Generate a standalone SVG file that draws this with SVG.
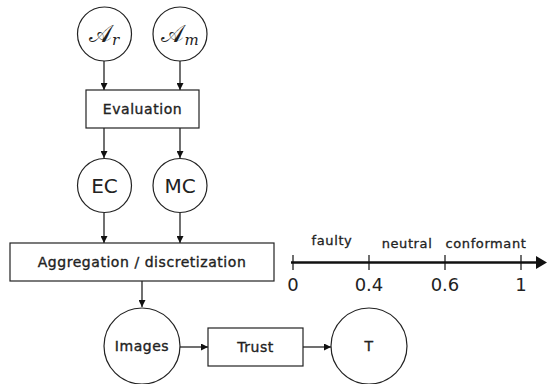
<svg xmlns="http://www.w3.org/2000/svg" width="547" height="384" viewBox="0 0 547 384">
<defs>
<style>
.n{fill:#fff;stroke:#222;stroke-width:1.2}
.t{font-family:"DejaVu Sans","Open Sans",sans-serif;fill:#222;text-anchor:middle}
.box{font-size:14px;letter-spacing:0.55px;stroke:#222;stroke-width:0.35}
.lb{font-size:13px;letter-spacing:0.6px;stroke:#222;stroke-width:0.3}
.big{font-size:20px}
.c{stroke:#111;stroke-width:1.2;fill:none;marker-end:url(#ah)}
.ax{stroke:#111;stroke-width:2.6;fill:none}
.tk{stroke:#111;stroke-width:1.2}
</style>
<marker id="ah" viewBox="0 0 10 10" refX="10" refY="5" markerWidth="7" markerHeight="7" markerUnits="userSpaceOnUse" orient="auto">
<path d="M0,0L10,5L0,10z" fill="#111"/>
</marker>
</defs>
<g id="connectors">
<path class="c" d="M104,61V90"/>
<path class="c" d="M180,61V90"/>
<path class="c" d="M104,128V158"/>
<path class="c" d="M180,128V158"/>
<path class="c" d="M104,213V243"/>
<path class="c" d="M180,213V243"/>
<path class="c" d="M142,281V307"/>
<path class="c" d="M180,347H208"/>
<path class="c" d="M303,347H331"/>
</g>
<g id="Ar"><circle class="n" cx="104.5" cy="34" r="27"/><text class="t" font-size="24" x="104" y="42">𝒜<tspan font-family="DejaVu Serif" font-style="italic" font-size="15" dy="3">r</tspan></text></g>
<g id="Am"><circle class="n" cx="180" cy="34" r="27"/><text class="t" font-size="24" x="180" y="42">𝒜<tspan font-family="DejaVu Serif" font-style="italic" font-size="15" dy="3">m</tspan></text></g>
<g id="Evaluation"><rect class="n" x="86" y="90" width="113" height="38"/><text class="t box" x="142.5" y="114">Evaluation</text></g>
<g id="EC"><circle class="n" cx="104.5" cy="185.5" r="27"/><text class="t big" x="104.5" y="193">EC</text></g>
<g id="MC"><circle class="n" cx="180" cy="185.5" r="27"/><text class="t big" x="180" y="193">MC</text></g>
<g id="Aggregation"><rect class="n" x="10" y="243" width="264" height="38"/><text class="t box" x="142" y="267">Aggregation / discretization</text></g>
<g id="Images"><circle class="n" cx="142" cy="346" r="38"/><text class="t box" x="142" y="351">Images</text></g>
<g id="Trust"><rect class="n" x="208" y="328" width="95" height="38"/><text class="t box" x="255.5" y="352">Trust</text></g>
<g id="T"><circle class="n" cx="369" cy="346" r="38"/><text class="t box" x="369" y="351">T</text></g>
<g id="scale">
<path class="ax" d="M291,262.5H540" />
<path d="M536,256L547,262.5L536,269z" fill="#111"/>
<path class="tk" d="M293,255V270M369,255V270M445,255V270M521,255V270"/>
<text class="t lb" x="332" y="245">faulty</text>
<text class="t lb" x="407" y="248">neutral</text>
<text class="t lb" x="486" y="248">conformant</text>
<text class="t" font-size="18" x="293" y="291">0</text>
<text class="t" font-size="18" x="369" y="291">0.4</text>
<text class="t" font-size="18" x="445" y="291">0.6</text>
<text class="t" font-size="18" x="521" y="291">1</text>
</g>
</svg>
